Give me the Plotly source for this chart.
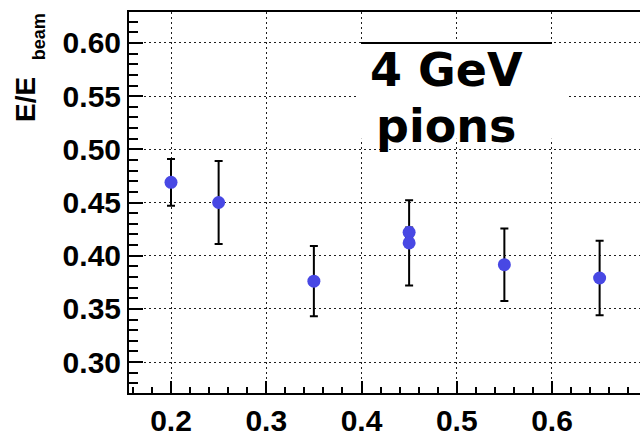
import plotly.graph_objects as go

# data
x_vals = [0.20, 0.25, 0.35, 0.45, 0.45, 0.55, 0.65]
y_vals = [0.469, 0.450, 0.376, 0.422, 0.412, 0.3915, 0.379]
y_err = [0.022, 0.039, 0.033, 0.0045, 0.040, 0.034, 0.035]
x_ticks = [0.2, 0.3, 0.4, 0.5, 0.6]
x_tick_text = ["0.2", "0.3", "0.4", "0.5", "0.6"]
y_ticks = [0.30, 0.35, 0.40, 0.45, 0.50, 0.55, 0.60]
y_tick_text = ["0.30", "0.35", "0.40", "0.45", "0.50", "0.55", "0.60"]
label_line1 = "4 GeV"
label_line2 = "pions"

x_range = [0.1559, 0.6924]
y_range = [0.2709, 0.6291]

fig = go.Figure()
fig.add_trace(go.Scatter(
    x=x_vals, y=y_vals, mode="markers",
    marker=dict(color="rgb(72,72,228)", size=13, line=dict(width=0)),
    error_y=dict(type="data", array=y_err, visible=True, color="black", thickness=2, width=4),
    showlegend=False,
))

tickfont = dict(family="Liberation Sans, Arial", size=30, color="black", weight="bold")
fig.update_xaxes(
    range=x_range, tickvals=x_ticks, ticktext=x_tick_text,
    showline=True, linecolor="black", linewidth=2, mirror=True,
    ticks="inside", ticklen=12, tickwidth=1.5, tickcolor="black",
    minor=dict(dtick=0.02, tick0=0, ticks="inside", ticklen=6, tickwidth=1.5, tickcolor="black", showgrid=False),
    showgrid=True, gridcolor="rgb(30,30,30)", gridwidth=1.2, griddash="2px,3px",
    zeroline=False, tickfont=tickfont,
)
fig.update_yaxes(
    range=y_range, tickvals=y_ticks, ticktext=y_tick_text,
    showline=True, linecolor="black", linewidth=2, mirror=False,
    ticks="inside", ticklen=14, tickwidth=1.5, tickcolor="black",
    minor=dict(dtick=0.01, tick0=0, ticks="inside", ticklen=9, tickwidth=1.5, tickcolor="black", showgrid=False),
    showgrid=True, gridcolor="rgb(30,30,30)", gridwidth=1.2, griddash="2px,3px",
    zeroline=False, tickfont=tickfont,
)

# label box
fig.add_shape(type="rect", xref="x", yref="y", x0=0.3963, x1=0.6168, y0=0.51, y1=0.60,
              fillcolor="white", line=dict(width=0), layer="above")
fig.add_shape(type="line", xref="x", yref="y", x0=0.3995, x1=0.60, y0=0.60, y1=0.60,
              line=dict(color="black", width=2), layer="above")

labfont = dict(family="DejaVu Sans", size=46, color="black", weight="bold")
fig.add_annotation(x=0.489, y=0.5750, xref="x", yref="y", text=label_line1, showarrow=False,
                   font=labfont, xanchor="center", yanchor="middle")
fig.add_annotation(x=0.489, y=0.5222, xref="x", yref="y", text=label_line2, showarrow=False,
                   font=labfont, xanchor="center", yanchor="middle")

# y title
fig.add_annotation(x=-0.2035, y=0.769, xref="paper", yref="paper", text="E/E", showarrow=False,
                   textangle=-90, font=dict(family="Liberation Sans, Arial", size=28, color="black", weight="bold"),
                   xanchor="center", yanchor="middle")
fig.add_annotation(x=-0.176, y=0.934, xref="paper", yref="paper", text="beam", showarrow=False,
                   textangle=-90, font=dict(family="Liberation Sans, Arial", size=18, color="black", weight="bold"),
                   xanchor="center", yanchor="middle")

fig.update_layout(
    width=640, height=437,
    margin=dict(l=129, r=0, t=12, b=31),
    paper_bgcolor="white", plot_bgcolor="white",
)
fig.write_html("out.html")
